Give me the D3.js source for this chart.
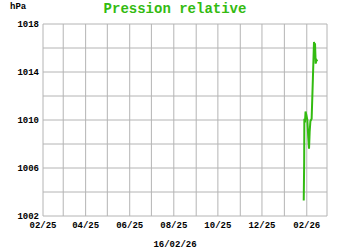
<!DOCTYPE html>
<html>
<head>
<meta charset="utf-8">
<script src="https://cdn.jsdelivr.net/npm/d3@7"></script>
<style>
  body { margin: 0; background: #fff; }
  text { font-family: "Liberation Mono", "DejaVu Sans Mono", monospace; font-weight: bold; }
</style>
</head>
<body>
<svg id="chart" width="350" height="250"></svg>
<script>

// data
const times = [
    '2026-01-27T19:00', '2026-01-28T10:00', '2026-01-28T16:00', '2026-01-29T12:00',
    '2026-01-30T08:00', '2026-01-31T12:00', '2026-02-01T20:00', '2026-02-03T00:00',
    '2026-02-04T03:00', '2026-02-05T00:00', '2026-02-06T00:00', '2026-02-07T18:00',
    '2026-02-09T12:00', '2026-02-11T00:00', '2026-02-11T18:00', '2026-02-12T10:00',
    '2026-02-13T08:00', '2026-02-14T12:00', '2026-02-15T16:00'
];
const pressure = [
    1003.3, 1006.5, 1010.1, 1009.8,
    1010.7, 1010.4, 1010.0, 1008.6,
    1007.6, 1009.0, 1009.9, 1010.1,
    1013.5, 1016.5, 1016.2, 1016.4,
    1014.7, 1015.0, 1014.9
];
const yTicks = [1002, 1006, 1010, 1014, 1018];
const dateLabel = '16/02/26';
const title = 'Pression relative';
const unit = 'hPa';

const margin = {top: 24, right: 23, bottom: 34, left: 43};
const width = 350, height = 250;

const svg = d3.select('#chart');
const parse = d3.timeParse('%Y-%m-%dT%H:%M');

const x = d3.scaleTime()
    .domain([new Date(2025, 1, 1), new Date(2026, 2, 1)])
    .range([margin.left, width - margin.right]);

const y = d3.scaleLinear()
    .domain([1002, 1018])
    .range([height - margin.bottom, margin.top]);

// ##################################################
// #  Grid                                          #
// ##################################################

const months = d3.timeMonth.range(x.domain()[0], d3.timeDay.offset(x.domain()[1], 1));

svg.append('g')
    .selectAll('line')
    .data(months)
    .join('line')
    .attr('x1', d => x(d)).attr('x2', d => x(d))
    .attr('y1', y(1018)).attr('y2', y(1002))
    .attr('stroke', '#b4b4b4');

svg.append('g')
    .selectAll('line')
    .data(d3.range(1002, 1019, 2))
    .join('line')
    .attr('x1', x.range()[0]).attr('x2', x.range()[1])
    .attr('y1', d => y(d)).attr('y2', d => y(d))
    .attr('stroke', '#b4b4b4');

// ##################################################
// #  Axes labels                                   #
// ##################################################

svg.append('g')
    .selectAll('text')
    .data(yTicks)
    .join('text')
    .attr('x', margin.left - 4)
    .attr('y', d => y(d))
    .attr('dy', '0.35em')
    .attr('text-anchor', 'end')
    .attr('font-size', 9)
    .text(d => d);

svg.append('g')
    .selectAll('text')
    .data(months.filter((d, i) => i % 2 === 0))
    .join('text')
    .attr('x', d => x(d))
    .attr('y', y(1002) + 12)
    .attr('text-anchor', 'middle')
    .attr('font-size', 9)
    .text(d3.timeFormat('%m/%y'));

svg.append('text')
    .attr('x', 175)
    .attr('y', 247)
    .attr('text-anchor', 'middle')
    .attr('font-size', 9)
    .text(dateLabel);

svg.append('text')
    .attr('x', 10)
    .attr('y', 9)
    .attr('font-size', 9)
    .text(unit);

svg.append('text')
    .attr('x', 175)
    .attr('y', 13)
    .attr('text-anchor', 'middle')
    .attr('font-size', 14)
    .attr('fill', '#33bb11')
    .text(title);

// ##################################################
// #  Series                                        #
// ##################################################

const line = d3.line()
    .x((d, i) => x(parse(times[i])))
    .y(d => y(d));

svg.append('path')
    .datum(pressure)
    .attr('d', line)
    .attr('fill', 'none')
    .attr('stroke', '#33bb11')
    .attr('stroke-width', 2);

</script>
</body>
</html>
